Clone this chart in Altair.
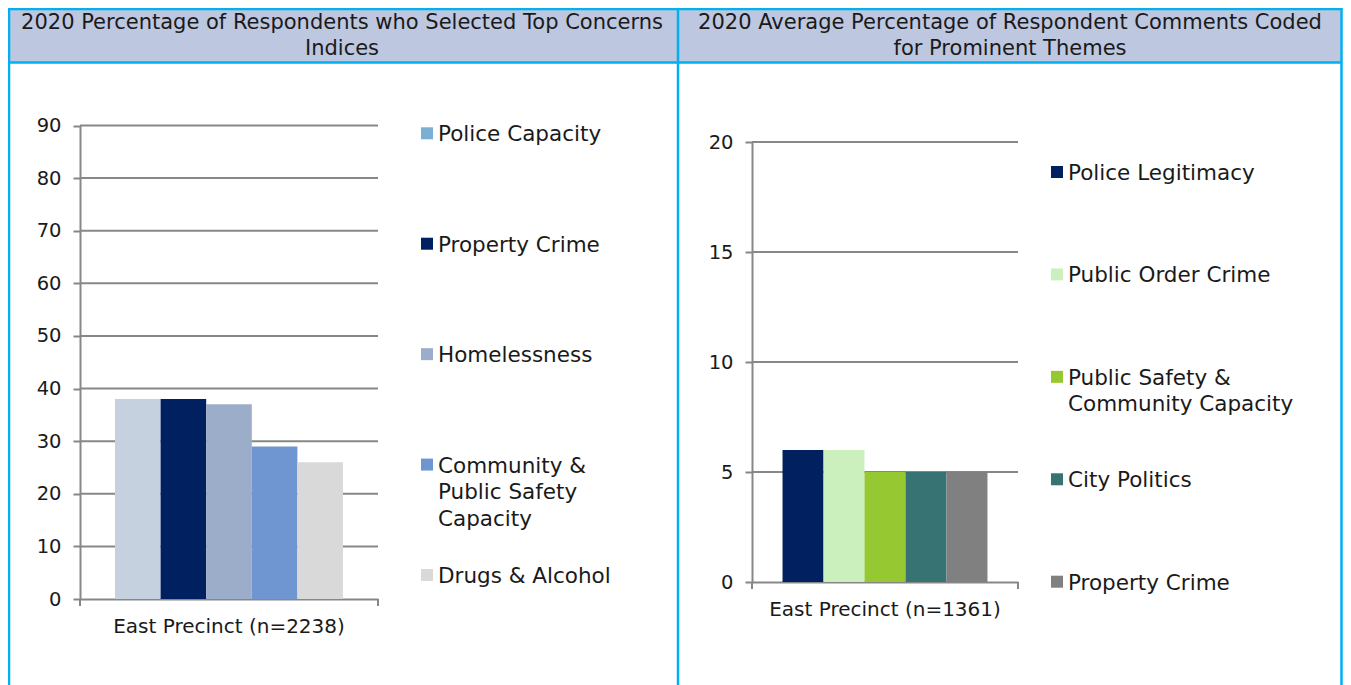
import altair as alt
import pandas as pd

# ---------------- data ----------------
left_title = "2020 Percentage of Respondents who Selected Top Concerns\nIndices"
left_group = "East Precinct (n=2238)"
left_cats = ["Police Capacity", "Property Crime", "Homelessness",
             "Community & Public Safety Capacity", "Drugs & Alcohol"]
left_legend = ["Police Capacity", "Property Crime", "Homelessness",
               "Community &\nPublic Safety\nCapacity", "Drugs & Alcohol"]
left_vals = [38, 38, 37, 29, 26]
left_ticks = [0, 10, 20, 30, 40, 50, 60, 70, 80, 90]

right_title = "2020 Average Percentage of Respondent Comments Coded\nfor Prominent Themes"
right_group = "East Precinct (n=1361)"
right_cats = ["Police Legitimacy", "Public Order Crime",
              "Public Safety & Community Capacity", "City Politics", "Property Crime"]
right_legend = ["Police Legitimacy", "Public Order Crime",
                "Public Safety &\nCommunity Capacity", "City Politics", "Property Crime"]
right_vals = [6, 6, 5, 5, 5]
right_ticks = [0, 5, 10, 15, 20]

# ---------------- styles ----------------
FONT = "DejaVu Sans"
TXT = "#1a1a1a"
GRID = "#878787"
BORDER = "#00B0F0"
HEADER = "#BDC7DF"
left_bar_colors = ["#C6D1DF", "#002060", "#9BADC8", "#7096D2", "#D9D9D9"]
left_swatch_colors = ["#7BAFD4", "#002060", "#9BADC8", "#7096D2", "#D9D9D9"]
right_colors = ["#002060", "#CCF0BD", "#96C832", "#377372", "#808080"]

W, H = 1335, 677

left_geom = dict(x0=72, x1=370, y0=591, ytop=117.5, ymax=90, pad=0.1535,
                 sq_x=419, tx=430, ly=[125.3, 567], title_x=334, xoff=-86)
right_geom = dict(x0=744, x1=1010, y0=574, ytop=134, ymax=20, pad=0.149,
                  sq_x=1049, tx=1060, ly=[164, 573.7], title_x=1002, xoff=-103)

one = pd.DataFrame({"a": [0]})


def panel(title, group, cats, legend_labels, vals, ticks, bar_colors, swatch_colors, g):
    layers = []
    df = pd.DataFrame({"group": [group] * len(cats), "cat": cats, "val": vals})
    yscale = alt.Scale(domain=[0, g["ymax"]], range=[g["y0"], g["ytop"]], nice=False, zero=True)

    # header title
    layers.append(
        alt.Chart(pd.DataFrame({"t": [title]})).mark_text(
            font=FONT, fontSize=21, color=TXT, align="center", baseline="middle",
            lineBreak="\n", lineHeight=26
        ).encode(x=alt.value(g["title_x"]), y=alt.value(15), text="t:N")
    )

    # gridlines
    grid_df = pd.DataFrame({"v": [t for t in ticks if t > 0]})
    layers.append(
        alt.Chart(grid_df).mark_rule(color=GRID, strokeWidth=2).encode(
            y=alt.Y("v:Q", scale=yscale, axis=None),
            x=alt.value(g["x0"]), x2=alt.value(g["x1"]),
        )
    )

    # bars
    layers.append(
        alt.Chart(df).mark_bar(opacity=1).encode(
            x=alt.X("group:N",
                    scale=alt.Scale(domain=[group], range=[g["x0"], g["x1"]],
                                    paddingOuter=g["pad"], paddingInner=0),
                    axis=alt.Axis(orient="bottom", offset=g["xoff"], title=None, ticks=False,
                                  labelAngle=0, labelFont=FONT, labelFontSize=20,
                                  labelColor=TXT, labelPadding=17, labelLimit=600,
                                  domainColor=GRID, domainWidth=2)),
            xOffset=alt.XOffset("cat:N", sort=cats,
                                scale=alt.Scale(domain=cats, paddingInner=0, paddingOuter=0)),
            y=alt.Y("val:Q", scale=yscale,
                    axis=alt.Axis(orient="left", offset=-g["x0"], values=ticks, title=None,
                                  grid=False, domainColor=GRID, domainWidth=2,
                                  tickColor=GRID, tickWidth=2, tickSize=7,
                                  labelFont=FONT, labelFontSize=19.5, labelColor=TXT,
                                  labelPadding=12, labelFlush=False, labelOverlap=False)),
            color=alt.Color("cat:N", scale=alt.Scale(domain=cats, range=bar_colors), legend=None),
        )
    )

    # small end ticks of the category axis
    layers.append(
        alt.Chart(pd.DataFrame({"x": [g["x0"], g["x1"]]})).mark_rule(color=GRID, strokeWidth=2).encode(
            x=alt.X("x:Q", scale=alt.Scale(domain=[0, W], range=[0, W]), axis=None),
            y=alt.value(g["y0"]), y2=alt.value(g["y0"] + 7),
        )
    )

    # legend
    ldf = pd.DataFrame({"label": legend_labels})
    lscale = alt.Scale(type="point", domain=legend_labels, range=g["ly"], padding=0)
    layers.append(
        alt.Chart(ldf).mark_square(size=144, opacity=1).encode(
            y=alt.Y("label:N", scale=lscale, axis=None, sort=legend_labels),
            x=alt.value(g["sq_x"]),
            color=alt.Color("label:N", scale=alt.Scale(domain=legend_labels, range=swatch_colors),
                            legend=None),
        )
    )
    layers.append(
        alt.Chart(ldf).mark_text(
            font=FONT, fontSize=21.5, color=TXT, align="left", baseline="alphabetic",
            dy=8, lineBreak="\n", lineHeight=26.5
        ).encode(
            y=alt.Y("label:N", scale=lscale, axis=None, sort=legend_labels),
            x=alt.value(g["tx"]),
            text="label:N",
        )
    )
    return layers


# frame: header band and table borders
frame = [
    alt.Chart(one).mark_rect(color=HEADER).encode(
        x=alt.value(0), x2=alt.value(W - 1), y=alt.value(1), y2=alt.value(54)),
    alt.Chart(one).mark_rule(color=BORDER, strokeWidth=2.5).encode(
        x=alt.value(0), x2=alt.value(W - 1), y=alt.value(1)),
    alt.Chart(one).mark_rule(color=BORDER, strokeWidth=2.5).encode(
        x=alt.value(0), x2=alt.value(W - 1), y=alt.value(54.5)),
    alt.Chart(one).mark_rule(color=BORDER, strokeWidth=2.5).encode(
        x=alt.value(1), y=alt.value(0), y2=alt.value(H)),
    alt.Chart(one).mark_rule(color=BORDER, strokeWidth=2.5).encode(
        x=alt.value(670), y=alt.value(0), y2=alt.value(H)),
    alt.Chart(one).mark_rule(color=BORDER, strokeWidth=2.5).encode(
        x=alt.value(W - 1.5), y=alt.value(0), y2=alt.value(H)),
]

layers = frame
layers += panel(left_title, left_group, left_cats, left_legend, left_vals, left_ticks,
                left_bar_colors, left_swatch_colors, left_geom)
layers += panel(right_title, right_group, right_cats, right_legend, right_vals, right_ticks,
                right_colors, right_colors, right_geom)

chart = alt.layer(*layers).resolve_scale(
    x="independent", y="independent", color="independent", xOffset="independent"
).resolve_axis(x="independent", y="independent").properties(
    width=W, height=H, autosize=alt.AutoSizeParams(type="none"), padding=0
).configure_view(stroke=None).configure(background="white")

chart.save("out.html", embed_options={"renderer": "svg", "actions": False})
